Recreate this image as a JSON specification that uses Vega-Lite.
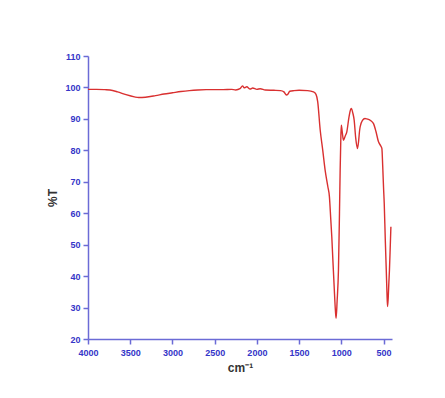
{
  "$schema": "https://vega.github.io/schema/vega-lite/v6.json",
  "width": 304,
  "height": 283,
  "autosize": {"type": "none"},
  "padding": {"left": 88, "top": 56, "right": 53, "bottom": 59},
  "background": "white",
  "config": {"view": {"stroke": null}},
  "data": {"values": [
    {"wn": 4000, "t": 99.4}, {"wn": 3900, "t": 99.4}, {"wn": 3800, "t": 99.3}, {"wn": 3740, "t": 99.2},
    {"wn": 3650, "t": 98.6}, {"wn": 3550, "t": 97.7}, {"wn": 3450, "t": 97.0}, {"wn": 3400, "t": 96.8},
    {"wn": 3320, "t": 96.9}, {"wn": 3200, "t": 97.4}, {"wn": 3100, "t": 97.9}, {"wn": 3000, "t": 98.3},
    {"wn": 2900, "t": 98.7}, {"wn": 2800, "t": 99.0}, {"wn": 2700, "t": 99.2}, {"wn": 2600, "t": 99.3},
    {"wn": 2500, "t": 99.3}, {"wn": 2400, "t": 99.3}, {"wn": 2300, "t": 99.4}, {"wn": 2250, "t": 99.2},
    {"wn": 2200, "t": 99.6}, {"wn": 2170, "t": 100.5}, {"wn": 2150, "t": 99.9}, {"wn": 2120, "t": 100.2},
    {"wn": 2080, "t": 99.5}, {"wn": 2050, "t": 99.8}, {"wn": 2000, "t": 99.4}, {"wn": 1960, "t": 99.6},
    {"wn": 1900, "t": 99.2}, {"wn": 1800, "t": 99.1}, {"wn": 1720, "t": 99.0}, {"wn": 1680, "t": 98.6},
    {"wn": 1650, "t": 97.6}, {"wn": 1635, "t": 97.8}, {"wn": 1610, "t": 98.8}, {"wn": 1560, "t": 99.0},
    {"wn": 1500, "t": 99.1}, {"wn": 1400, "t": 99.0}, {"wn": 1330, "t": 98.6}, {"wn": 1300, "t": 97.8},
    {"wn": 1280, "t": 95.5}, {"wn": 1250, "t": 86.4}, {"wn": 1220, "t": 80.0}, {"wn": 1192, "t": 73.7},
    {"wn": 1160, "t": 68.5}, {"wn": 1141, "t": 65.2}, {"wn": 1125, "t": 58.0}, {"wn": 1113, "t": 52.5},
    {"wn": 1100, "t": 45.0}, {"wn": 1085, "t": 36.7}, {"wn": 1070, "t": 29.0}, {"wn": 1062, "t": 26.6},
    {"wn": 1050, "t": 32.0}, {"wn": 1034, "t": 42.0}, {"wn": 1022, "t": 60.0}, {"wn": 1014, "t": 73.7},
    {"wn": 1005, "t": 85.0}, {"wn": 1000, "t": 88.0}, {"wn": 990, "t": 86.0}, {"wn": 975, "t": 83.2},
    {"wn": 955, "t": 84.5}, {"wn": 935, "t": 85.9}, {"wn": 910, "t": 90.5}, {"wn": 890, "t": 93.0},
    {"wn": 880, "t": 93.3}, {"wn": 865, "t": 92.0}, {"wn": 848, "t": 89.6}, {"wn": 830, "t": 84.0},
    {"wn": 809, "t": 80.6}, {"wn": 795, "t": 83.0}, {"wn": 785, "t": 86.0}, {"wn": 777, "t": 87.5},
    {"wn": 750, "t": 89.5}, {"wn": 720, "t": 90.1}, {"wn": 700, "t": 90.0}, {"wn": 650, "t": 89.4},
    {"wn": 619, "t": 88.5}, {"wn": 590, "t": 86.0}, {"wn": 560, "t": 82.7}, {"wn": 535, "t": 81.5},
    {"wn": 520, "t": 80.6}, {"wn": 510, "t": 75.0}, {"wn": 500, "t": 68.0}, {"wn": 492, "t": 63.2},
    {"wn": 480, "t": 52.0}, {"wn": 468, "t": 42.0}, {"wn": 460, "t": 35.0}, {"wn": 453, "t": 30.3},
    {"wn": 445, "t": 33.0}, {"wn": 437, "t": 38.0}, {"wn": 430, "t": 42.0}, {"wn": 420, "t": 50.0},
    {"wn": 413, "t": 55.7}
  ]},
  "mark": {"type": "line", "color": "#d93030", "strokeWidth": 1.4, "interpolate": "monotone"},
  "encoding": {
    "x": {
      "field": "wn", "type": "quantitative",
      "scale": {"domain": [4000, 400], "nice": false, "zero": false},
      "axis": {
        "title": "cm⁻¹", "values": [4000, 3500, 3000, 2500, 2000, 1500, 1000, 500], "format": "d",
        "grid": false, "domainColor": "#6b6bd6", "domainWidth": 1.5, "tickColor": "#6b6bd6", "tickWidth": 1.5, "tickSize": 5,
        "labelColor": "#3535c8", "labelFont": "Liberation Sans", "labelFontWeight": "bold", "labelFontSize": 9,
        "labelPadding": 4, "labelFlush": false,
        "titleColor": "#333333", "titleFont": "Liberation Sans", "titleFontWeight": "bold", "titleFontSize": 12, "titlePadding": 5
      }
    },
    "y": {
      "field": "t", "type": "quantitative",
      "scale": {"domain": [20, 110], "nice": false, "zero": false},
      "axis": {
        "title": "%T", "values": [20, 30, 40, 50, 60, 70, 80, 90, 100, 110], "format": "d",
        "grid": false, "domainColor": "#6b6bd6", "domainWidth": 1.5, "tickColor": "#6b6bd6", "tickWidth": 1.5, "tickSize": 5,
        "labelColor": "#3535c8", "labelFont": "Liberation Sans", "labelFontWeight": "bold", "labelFontSize": 9,
        "labelPadding": 3, "labelFlush": false,
        "titleColor": "#333333", "titleFont": "Liberation Sans", "titleFontWeight": "bold", "titleFontSize": 12, "titlePadding": 5
      }
    }
  }
}
